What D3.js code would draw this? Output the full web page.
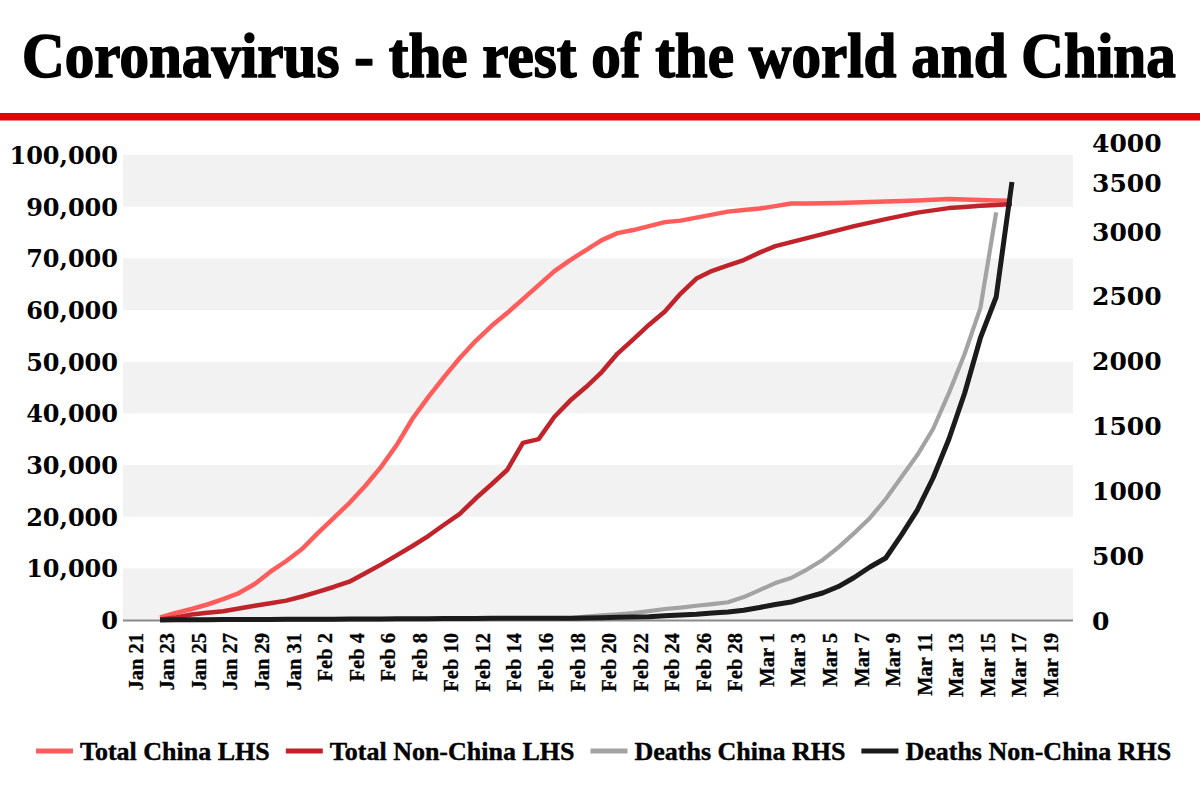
<!DOCTYPE html>
<html><head><meta charset="utf-8">
<script src="https://cdn.jsdelivr.net/npm/d3@7"></script>
<style>body{margin:0;background:#fff} svg{display:block}</style>
</head><body>
<svg id="c" width="1200" height="801"></svg>
<script>
// ---------- data ----------
const titleText = "Coronavirus - the rest of the world and China";
const firstDay = "2020-01-23";
const totalChina = [500,1350,2130,3000,4060,5220,6970,9350,11420,13740,16830,19740,22640,25930,29600,33860,38950,43150,47020,50700,53990,56890,59400,62110,64820,67530,69660,71600,73530,74880,75470,76240,77010,77300,77880,78460,79040,79340,79630,80110,80630,80600,80650,80690,80790,80880,80980,81080,81210,81360,81460,81400,81300,81210,81130];
const totalNonChina = [100,480,1060,1390,1700,2230,2750,3230,3750,4550,5460,6390,7410,9040,10720,12500,14320,16250,18440,20550,23510,26220,29030,34290,35000,39340,42470,45090,47990,51570,54320,57160,59700,63180,66080,67590,68630,69660,71110,72370,73140,73920,74690,75470,76240,76920,77590,78210,78850,79280,79720,79950,80170,80340,80500];
const deathsChina = [0,0,1,1,1,2,2,2,3,3,3,4,4,4,5,5,5,6,6,6,7,7,8,8,9,10,12,27,35,44,54,69,85,96,110,123,137,177,231,285,324,389,463,560,670,787,933,1103,1272,1473,1749,2051,2406,3190];
const deathsNonChina = [0,1,2,2,3,3,4,4,5,5,6,6,7,8,8,9,10,10,11,12,12,13,13,13,13,13,13,15,17,21,23,26,32,39,45,54,62,75,96,120,139,174,208,258,328,409,478,656,848,1095,1394,1749,2175,2491,3500];
const xTickLabels = ["Jan 21","Jan 23","Jan 25","Jan 27","Jan 29","Jan 31","Feb 2","Feb 4","Feb 6","Feb 8","Feb 10","Feb 12","Feb 14","Feb 16","Feb 18","Feb 20","Feb 22","Feb 24","Feb 26","Feb 28","Mar 1","Mar 3","Mar 5","Mar 7","Mar 9","Mar 11","Mar 13","Mar 15","Mar 17","Mar 19"];
const leftTickValues = [0,10000,20000,30000,40000,50000,60000,70000,80000,90000];
const leftTickLabels = ["0","10,000","20,000","30,000","40,000","50,000","60,000","70,000","90,000","100,000"];
const rightTickValues = [0,500,1000,1500,2000,2500,3000,3500,4000];
const seriesNames = ["Total China LHS","Total Non-China LHS","Deaths China RHS","Deaths Non-China RHS"];
const seriesColors = ["#ff5c5c","#c1232b","#a3a3a3","#1b1b1b"];

// ---------- layout ----------
const svg = d3.select("#c");
const P = {left:123, right:1073, top:155, bottom:620};
const serif = "'Liberation Serif', 'Times New Roman', serif";
const dserif = "'DejaVu Serif', serif";

const parseDay = d3.utcParse("%Y-%m-%d");
const parseLabel = d3.utcParse("%b %d %Y");
const day0 = parseDay(firstDay);
const dateAt = i => d3.utcDay.offset(day0, i);
const labelDates = xTickLabels.map(s => parseLabel(s + " 2020"));

const x = d3.scaleUtc().domain([labelDates[0], labelDates[labelDates.length-1]]).range([128.5, 1043.5]);
const yL = d3.scaleLinear().domain([0, 90000]).range([P.bottom, P.top]);
const yR = d3.scaleLinear().domain([0, 3000, 3500, 4000]).range([P.bottom, 231, 182, 142]);

// title + rule
const title = svg.append("text").attr("x",0).attr("y",0)
  .attr("font-family",serif).attr("font-weight",700).attr("font-size",63)
  .attr("fill","#000").attr("stroke","#000").attr("stroke-width",1.6).attr("stroke-linejoin","round")
  .text(titleText);
const tw = title.node().getComputedTextLength();
title.attr("transform",`translate(22,77) scale(${1154/tw},1)`);
svg.append("rect").attr("x",0).attr("y",113).attr("width",1200).attr("height",7.5).attr("fill","#e50000");

// bands
const bandStarts = leftTickValues.filter((d,i)=> i%2===0 && i < leftTickValues.length-1);
svg.append("g").selectAll("rect").data(bandStarts).join("rect")
  .attr("x",P.left).attr("width",P.right-P.left)
  .attr("y",d=>yL(d+10000)).attr("height",d=>yL(d)-yL(d+10000))
  .attr("fill","#f2f2f2");

// baseline
svg.append("line").attr("x1",P.left).attr("x2",P.right).attr("y1",P.bottom+0.5).attr("y2",P.bottom+0.5)
  .attr("stroke","#8a8a8a").attr("stroke-width",2);

// axes
const gL = svg.append("g").attr("transform",`translate(${P.left},0)`)
  .call(d3.axisLeft(yL).tickValues(leftTickValues).tickFormat((d,i)=>leftTickLabels[i]).tickSize(0).tickPadding(5));
gL.select(".domain").remove();
gL.selectAll("text").attr("font-family",dserif).attr("font-weight",700).attr("font-size",24).attr("fill","#000").attr("dy","0.36em");

const gR = svg.append("g").attr("transform",`translate(${P.right},0)`)
  .call(d3.axisRight(yR).tickValues(rightTickValues).tickFormat(d3.format("d")).tickSize(0).tickPadding(19));
gR.select(".domain").remove();
gR.selectAll("text").attr("font-family",dserif).attr("font-weight",700).attr("font-size",25).attr("fill","#000").attr("dy","0.36em");

const gX = svg.append("g").attr("transform",`translate(0,${P.bottom})`)
  .call(d3.axisBottom(x).tickValues(labelDates).tickFormat((d,i)=>xTickLabels[i]).tickSize(0));
gX.select(".domain").remove();
gX.selectAll("text").attr("font-family",serif).attr("font-weight",700).attr("font-size",20.5).attr("fill","#000")
  .attr("stroke","#000").attr("stroke-width",0.3)
  .attr("transform","rotate(-90)").attr("text-anchor","end")
  .attr("x",-13).attr("y",13.8).attr("dy",null);

// lines
const series = [
  {vals: totalChina, y: yL},
  {vals: totalNonChina, y: yL},
  {vals: deathsChina, y: yR},
  {vals: deathsNonChina, y: yR}
];
const widths = [4.5,4.5,4.2,5];
series.forEach((s,k)=>{
  const line = d3.line().x((d,i)=>x(dateAt(i))).y(d=>s.y(d));
  svg.append("path").attr("d", line(s.vals)).attr("fill","none")
    .attr("stroke", seriesColors[k]).attr("stroke-width", widths[k])
    .attr("stroke-linejoin","round");
});

// legend
const lg = svg.append("g");
let cx = 36;
seriesNames.forEach((name,k)=>{
  lg.append("line").attr("x1",cx).attr("x2",cx+37).attr("y1",751).attr("y2",751)
    .attr("stroke",seriesColors[k]).attr("stroke-width",5);
  const t = lg.append("text").attr("x",cx+44).attr("y",760)
    .attr("font-family",serif).attr("font-weight",700).attr("font-size",26).attr("fill","#000")
    .attr("stroke","#000").attr("stroke-width",0.4).text(name);
  cx = cx + 44 + t.node().getComputedTextLength() + 16;
});
</script>
</body></html>
